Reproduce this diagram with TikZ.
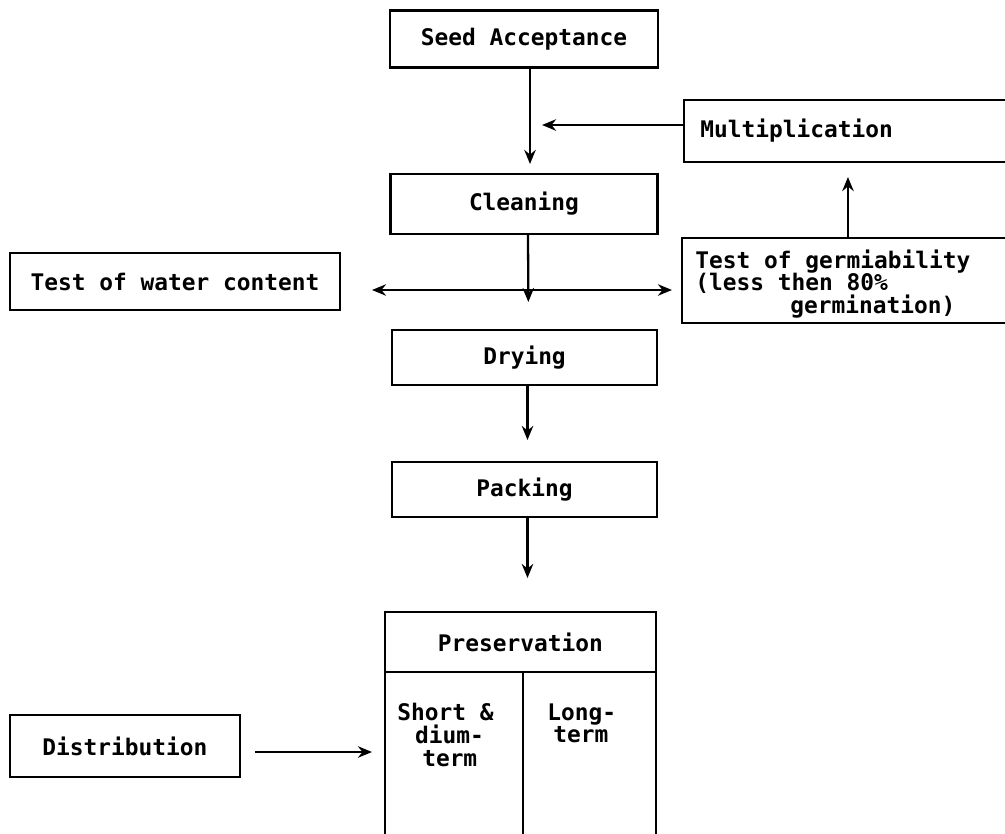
\documentclass[tikz,border=0pt]{standalone}
\usepackage{fontspec}
\setmonofont{DejaVu Sans Mono}
\usetikzlibrary{arrows.meta}

\begin{document}
\begin{tikzpicture}[x=0.02cm, y=-0.02cm,
    font=\ttfamily\bfseries\fontsize{13}{13}\selectfont,
    box/.style={draw, line width=1.5pt, inner sep=0pt, outer sep=0pt},
    arr/.style={line width=1.3pt, -{Stealth[length=8pt, width=6.5pt]}},
    twoarr/.style={line width=1.3pt, {Stealth[length=8pt, width=6.5pt]}-{Stealth[length=8pt, width=6.5pt]}}]

    \useasboundingbox (0,0) rectangle (1005,833);
    \clip (0,0) rectangle (1005,833);

    % main column
    \node[box, minimum width=5.36cm, minimum height=1.14cm] (seed) at (524,39) {Seed Acceptance};
    \node[box, minimum width=5.34cm, minimum height=1.2cm] (clean) at (524,204) {Cleaning};
    \node[box, minimum width=5.3cm, minimum height=1.1cm] (dry) at (524.5,357.5) {Drying};
    \node[box, minimum width=5.3cm, minimum height=1.1cm] (pack) at (524.5,489.5) {Packing};

    \node[box, anchor=north west, minimum width=5.42cm, minimum height=1.2cm] (pres) at (385,612) {Preservation};
    \node[box, anchor=north west, minimum width=2.76cm, minimum height=3.36cm] (shortcell) at (pres.south west) {};
    \node[box, anchor=north west, minimum width=2.66cm, minimum height=3.36cm] (longcell) at (shortcell.north east) {};
    \node[anchor=north west, align=left, inner sep=0pt] (shorttxt) at (397,703) {Short \&\\\hspace*{0.78em}dium-\\\hspace*{1.09em}term};
    \node[anchor=north west, align=left, inner sep=0pt] (longtxt) at (547,703) {Long-\\\hspace*{0.26em}term};

    % side boxes
    \node[box, anchor=west, minimum width=6.92cm, minimum height=1.24cm] (mult) at (684,131) {};
    \node[anchor=west, inner sep=0pt] (multtxt) at (700,131) {Multiplication};
    \node[box, anchor=north west, minimum width=6.96cm, minimum height=1.7cm] (germ) at (682,238) {};
    \node[anchor=west, align=left, inner sep=0pt] (germtxt) at (695,284) {Test of germiability\\(less then 80\%\\\hspace*{1.9cm}germination)};
    \node[box, minimum width=6.6cm, minimum height=1.14cm] (water) at (175,281.5) {Test of water content};
    \node[box, minimum width=4.6cm, minimum height=1.24cm] (dist) at (125,746) {Distribution};

    % connectors
    \draw[arr, shorten >=0.2cm] ([xshift=0.12cm]seed.south) -- ([xshift=0.12cm]clean.north);
    \coordinate (join) at (542,125);
    \draw[arr] (join -| mult.west) -- (join);
    \draw[arr, shorten >=0.3cm] ([xshift=-0.16cm]germ.north) -- ([xshift=-0.16cm]germ.north |- mult.south);
    \draw[arr, shorten >=0.56cm] ([xshift=0.08cm]clean.south) -- ([xshift=0.08cm]dry.north);
    \coordinate (testrow) at (528,290);
    \draw[twoarr, shorten <=0.64cm, shorten >=0.2cm] (water.east |- testrow) -- (germ.west |- testrow);
    \draw[arr, shorten >=0.44cm] ([xshift=0.06cm]dry.south) -- ([xshift=0.06cm]pack.north);
    \draw[arr, shorten >=0.68cm] ([xshift=0.06cm]pack.south) -- ([xshift=0.06cm]pack.south |- pres.north);
    \coordinate (distrow) at (300,752);
    \draw[arr, shorten <=0.3cm, shorten >=0.26cm] (dist.east |- distrow) -- (shortcell.west |- distrow);
\end{tikzpicture}
\end{document}
